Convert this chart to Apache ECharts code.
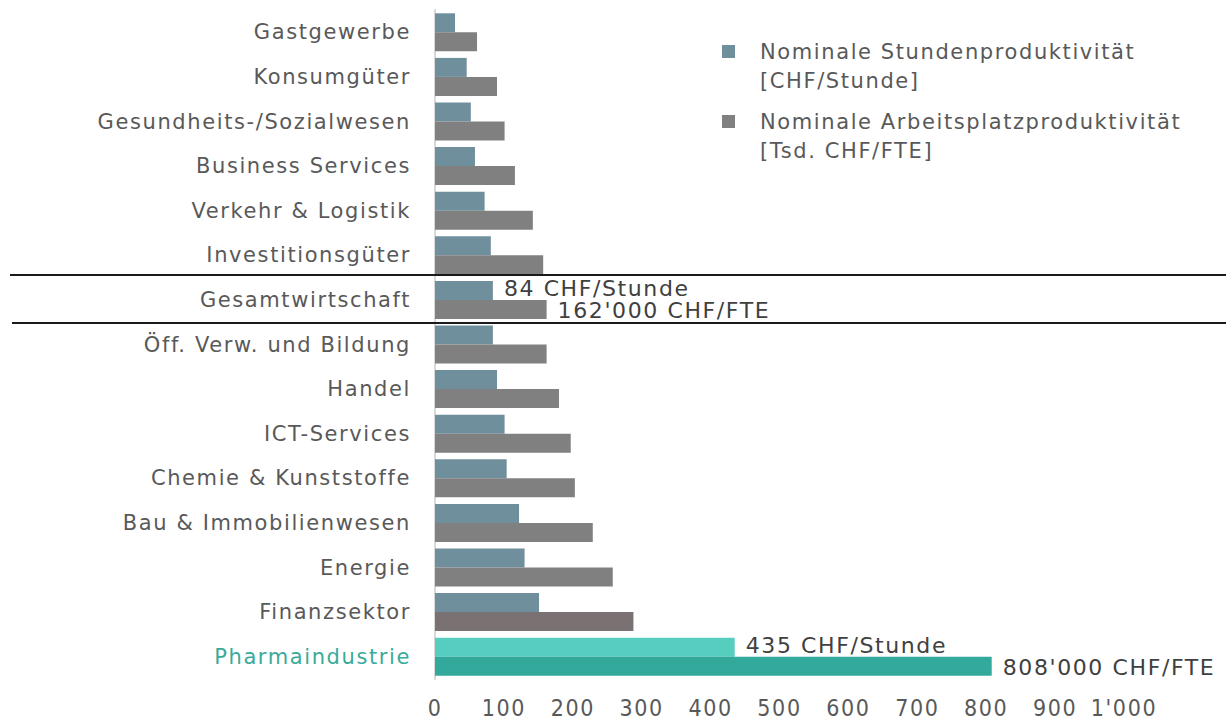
<!DOCTYPE html>
<html>
<head>
<meta charset="utf-8">
<script src="https://cdn.jsdelivr.net/npm/echarts@6/dist/echarts.min.js"></script>
<style>
  html, body { margin: 0; padding: 0; background: #fff; }
  #chart { width: 1226px; height: 720px; }
  /* die Vorlage hat leicht gesperrte Schrift */
  #chart text { letter-spacing: 1.6px; }
</style>
</head>
<body>
<div id="chart"></div>
<script>
// Branchen von oben nach unten
const branchen = [
  'Gastgewerbe', 'Konsumgüter', 'Gesundheits-/Sozialwesen', 'Business Services',
  'Verkehr & Logistik', 'Investitionsgüter', 'Gesamtwirtschaft', 'Öff. Verw. und Bildung',
  'Handel', 'ICT-Services', 'Chemie & Kunststoffe', 'Bau & Immobilienwesen',
  'Energie', 'Finanzsektor', 'Pharmaindustrie'
];
// CHF pro Stunde
const stunde = [29, 46, 52, 58, 72, 81, 84, 84, 90, 101, 104, 122, 130, 151, 435];
// Tsd. CHF pro FTE
const fte = [61, 90, 101, 116, 142, 157, 162, 162, 180, 197, 203, 229, 258, 288, 808];
const xTicks = [0, 100, 200, 300, 400, 500, 600, 700, 800, 900, 1000];

const font = 'DejaVu Sans, Verdana, sans-serif';
const blau = '#6e8f9b', grau = '#808080';

const chart = echarts.init(document.getElementById('chart'), null, { renderer: 'svg' });

function barLabel(text, dy) {
  return { show: true, position: 'right', distance: 11, formatter: text, offset: [0, dy],
    color: '#404040', fontSize: 22, lineHeight: 18, fontFamily: font };
}

const stundeData = stunde.map((v, i) => {
  const item = { value: v };
  if (branchen[i] === 'Gesamtwirtschaft') item.label = barLabel('84 CHF/Stunde', -2);
  if (branchen[i] === 'Pharmaindustrie') {
    item.itemStyle = { color: '#57cdc0' };
    item.label = barLabel('435 CHF/Stunde', -2);
  }
  return item;
});
const fteData = fte.map((v, i) => {
  const item = { value: v };
  if (branchen[i] === 'Gesamtwirtschaft') item.label = barLabel("162'000 CHF/FTE", 1);
  if (branchen[i] === 'Finanzsektor') item.itemStyle = { color: '#7a7272' };
  if (branchen[i] === 'Pharmaindustrie') {
    item.itemStyle = { color: '#33a99b' };
    item.label = barLabel("808'000 CHF/FTE", 1);
  }
  return item;
});

chart.setOption({
  animation: false,
  grid: { left: 435, right: 102, top: 10, bottom: 41 },
  legend: {
    orient: 'vertical',
    left: 722,
    top: 8,
    padding: 0,
    itemWidth: 13,
    itemHeight: 13,
    itemGap: -17,
    icon: 'rect',
    // leere erste Zeile, damit das Symbol auf der ersten Textzeile sitzt
    formatter: n => n === 'stunde'
      ? ' \nNominale Stundenproduktivität\n[CHF/Stunde]'
      : ' \nNominale Arbeitsplatzproduktivität\n[Tsd. CHF/FTE]',
    textStyle: { fontSize: 21, lineHeight: 29, color: '#595959', fontFamily: font,
      padding: [0, 0, 0, 20] },
    data: ['stunde', 'fte']
  },
  xAxis: {
    type: 'value', min: 0, max: 1000, interval: 100,
    axisLine: { show: false }, axisTick: { show: false }, splitLine: { show: false },
    axisLabel: {
      fontSize: 23, color: '#595959', margin: 17,
      fontFamily: 'DejaVu Sans Condensed, ' + font,
      formatter: v => xTicks.includes(v) ? (v === 1000 ? "1'000" : String(v)) : ''
    }
  },
  yAxis: {
    type: 'category', inverse: true, data: branchen,
    axisLine: { show: true, lineStyle: { color: '#d9d9d9', width: 2 } },
    axisTick: { show: false },
    axisLabel: {
      fontSize: 21, margin: 24, fontFamily: font,
      color: (v) => v === 'Pharmaindustrie' ? '#3aaa9a' : '#595959'
    }
  },
  series: [
    { name: 'stunde', type: 'bar', data: stundeData, barWidth: 19, barGap: '0%',
      itemStyle: { color: blau }, z: 2 },
    { name: 'fte', type: 'bar', data: fteData, barWidth: 19,
      itemStyle: { color: grau }, z: 2 }
  ]
});

// Trennlinien um Gesamtwirtschaft
const iG = branchen.indexOf('Gesamtwirtschaft');
const yPrev = chart.convertToPixel({ yAxisIndex: 0 }, branchen[iG - 1]);
const yMid = chart.convertToPixel({ yAxisIndex: 0 }, branchen[iG]);
const yNext = chart.convertToPixel({ yAxisIndex: 0 }, branchen[iG + 1]);
const y1 = Math.round((yPrev + yMid) / 2) - 3, y2 = Math.round((yMid + yNext) / 2) + 1;
chart.setOption({
  graphic: [
    { type: 'line', shape: { x1: 10, y1: y1, x2: 1226, y2: y1 }, style: { stroke: '#1a1a1a', lineWidth: 2 }, z: 10 },
    { type: 'line', shape: { x1: 12, y1: y2, x2: 1226, y2: y2 }, style: { stroke: '#1a1a1a', lineWidth: 2 }, z: 10 }
  ]
});
</script>
</body>
</html>
